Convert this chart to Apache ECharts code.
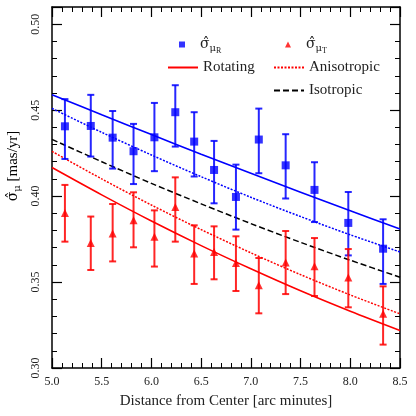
<!DOCTYPE html>
<html><head><meta charset="utf-8">
<script src="https://cdn.jsdelivr.net/npm/echarts@6/dist/echarts.min.js"></script>
<style>html,body{margin:0;padding:0;background:#fff}#c{width:416px;height:416px}</style>
</head><body><div id="c"></div>
<script>
// Observed points (distance in arc minutes)
const distances = [5.13,5.39,5.61,5.82,6.03,6.24,6.43,6.63,6.85,7.08,7.35,7.64,7.98,8.33];
const sigmaR     = [0.4406,0.4408,0.4340,0.4261,0.4342,0.4488,0.4317,0.4152,0.3995,0.4329,0.4179,0.4036,0.3844,0.3694];
const sigmaRLow  = [0.4216,0.4230,0.4160,0.4070,0.4145,0.4288,0.4114,0.3958,0.3805,0.4133,0.3986,0.3849,0.3655,0.3489];
const sigmaRHigh = [0.4564,0.4589,0.4495,0.4420,0.4542,0.4645,0.4488,0.4321,0.4183,0.4509,0.4360,0.4197,0.4024,0.3865];
const sigmaT     = [0.3902,0.3727,0.3782,0.3859,0.3764,0.3937,0.3666,0.3675,0.3611,0.3481,0.3613,0.3592,0.3526,0.3316];
const sigmaTLow  = [0.3735,0.3570,0.3620,0.3702,0.3590,0.3735,0.3489,0.3516,0.3448,0.3318,0.3430,0.3419,0.3353,0.3136];
const sigmaTHigh = [0.4065,0.3881,0.3954,0.4022,0.3917,0.4109,0.3830,0.3824,0.3766,0.3640,0.3797,0.3756,0.3692,0.3475];
// Model curves
const modelX   = [5.0,5.5,6.0,6.5,7.0,7.5,8.0,8.5];
const rotR     = [0.4590,0.4473,0.4358,0.4244,0.4133,0.4023,0.3915,0.3808];
const anisoR   = [0.4510,0.4371,0.4239,0.4113,0.3993,0.3881,0.3775,0.3675];
const isoModel = [0.4330,0.4200,0.4074,0.3955,0.3840,0.3731,0.3627,0.3528];
const anisoT   = [0.4260,0.4100,0.3948,0.3805,0.3670,0.3543,0.3425,0.3315];
const rotT     = [0.4166,0.4007,0.3855,0.3712,0.3577,0.3449,0.3330,0.3218];
const xTicks = ['5.0','5.5','6.0','6.5','7.0','7.5','8.0','8.5'];
const yTicks = ['0.30','0.35','0.40','0.45','0.50'];

const FONT = 'Liberation Serif';
const BLUE = '#0000ff', RED = '#ff0000';
const zip = (xs, ys) => xs.map((x, i) => [x, ys[i]]);
const errData = (lo, hi) => distances.map((x, i) => [x, lo[i], hi[i]]);

function errRender(color) {
  return function (params, api) {
    const x = api.value(0);
    const p1 = api.coord([x, api.value(1)]);
    const p2 = api.coord([x, api.value(2)]);
    const w = 3.5;
    const st = {stroke: color, lineWidth: 2, opacity: 0.85};
    return {type: 'group', children: [
      {type: 'line', shape: {x1: p1[0], y1: p1[1], x2: p2[0], y2: p2[1]}, style: st},
      {type: 'line', shape: {x1: p1[0]-w, y1: p1[1], x2: p1[0]+w, y2: p1[1]}, style: st},
      {type: 'line', shape: {x1: p2[0]-w, y1: p2[1], x2: p2[0]+w, y2: p2[1]}, style: st}
    ]};
  };
}

const rich = {
  h: {fontFamily: 'DejaVu Serif', fontSize: 14, color: '#222'},
  t: {fontFamily: FONT, fontSize: 15, color: '#222'},
  s: {fontFamily: 'DejaVu Serif', fontSize: 10, color: '#222', padding: [8, 0, 0, 0]},
  ss: {fontFamily: FONT, fontSize: 8, color: '#222', padding: [12, 0, 0, 0]},
  gap: {width: 10}
};
const labelMap = {
  sR: '{gap|}{h|σ̂}{s|μ}{ss|R}',
  sT: '{gap|}{h|σ̂}{s|μ}{ss|T}'
};
function mkLegend(name, left, top, iw, ih, extra) {
  return Object.assign({
    data: [name], left: left, top: top, itemWidth: iw, itemHeight: ih, itemGap: 0,
    padding: 0, selectedMode: false,
    formatter: n => labelMap[n] || n,
    textStyle: {fontFamily: FONT, fontSize: 15, color: '#222', rich: rich}
  }, extra || {});
}
const noSym = {itemStyle: {opacity: 0}};

const axisCommon = {
  min: 5.0, max: 8.5, interval: 0.5,
  axisLine: {lineStyle: {color: '#000', width: 1.5}},
  axisTick: {inside: true, length: 10, lineStyle: {color: '#000', width: 1.2}},
  minorTick: {show: true, splitNumber: 5, length: 5, lineStyle: {color: '#000', width: 1}},
  splitLine: {show: false}
};
const yCommon = {
  min: 0.30, max: 0.51, interval: 0.05,
  axisLine: {show: true, lineStyle: {color: '#000', width: 1.5}},
  axisTick: {show: true, inside: true, length: 10, lineStyle: {color: '#000', width: 1.2}},
  minorTick: {show: true, splitNumber: 5, length: 5, lineStyle: {color: '#000', width: 1}},
  splitLine: {show: false}
};

const chart = echarts.init(document.getElementById('c'), null, {renderer: 'canvas'});
chart.setOption({
  animation: false,
  backgroundColor: '#fff',
  grid: {left: 52, right: 16, top: 7, bottom: 48},
  xAxis: [
    Object.assign({type: 'value', position: 'bottom',
      axisLabel: {margin: 8, fontFamily: FONT, fontSize: 12, color: '#222',
        formatter: v => xTicks[Math.round((v - 5.0) / 0.5)] || ''},
      name: 'Distance from Center [arc minutes]', nameLocation: 'middle', nameGap: 26,
      nameTextStyle: {fontFamily: FONT, fontSize: 15, color: '#222'}}, axisCommon),
    Object.assign({type: 'value', position: 'top', axisLabel: {show: false}}, axisCommon)
  ],
  yAxis: [
    Object.assign({type: 'value', position: 'left',
      axisLabel: {rotate: 90, margin: 10, fontFamily: FONT, fontSize: 12, color: '#222',
        formatter: v => yTicks[Math.round((v - 0.30) / 0.05)] || ''}}, yCommon),
    Object.assign({type: 'value', position: 'right', axisLabel: {show: false}}, yCommon)
  ],
  legend: [
    mkLegend('sR', 179, 37, 6, 6),
    mkLegend('sT', 285, 37, 6, 6),
    mkLegend('Rotating', 167, 60, 30, 7, noSym),
    mkLegend('Anisotropic', 273, 60, 30, 7, noSym),
    mkLegend('Isotropic', 273, 83, 30, 7, noSym)
  ],
  graphic: [{
    type: 'text', x: 13, y: 166, rotation: Math.PI / 2,
    style: {text: '{h|σ̂}{s|μ}{t| [mas/yr]}', rich: rich, align: 'center', verticalAlign: 'middle'}
  }],
  series: [
    {name: 'errR', type: 'custom', renderItem: errRender(BLUE), data: errData(sigmaRLow, sigmaRHigh), z: 3},
    {name: 'errT', type: 'custom', renderItem: errRender(RED), data: errData(sigmaTLow, sigmaTHigh), z: 3},
    {name: 'Rotating', type: 'line', data: zip(modelX, rotT), smooth: 0.3, showSymbol: false, symbol: 'none',
      lineStyle: {color: RED, width: 1.6}, itemStyle: {color: RED}, z: 2},
    {name: 'Rotating', type: 'line', data: zip(modelX, rotR), smooth: 0.3, showSymbol: false, symbol: 'none',
      lineStyle: {color: BLUE, width: 1.6}, itemStyle: {color: BLUE}, z: 2},
    {name: 'Anisotropic', type: 'line', data: zip(modelX, anisoT), smooth: 0.3, showSymbol: false, symbol: 'none',
      lineStyle: {color: RED, width: 1.5, type: [2, 1.5]}, itemStyle: {color: RED}, z: 2},
    {name: 'Anisotropic', type: 'line', data: zip(modelX, anisoR), smooth: 0.3, showSymbol: false, symbol: 'none',
      lineStyle: {color: BLUE, width: 1.5, type: [2, 1.5]}, itemStyle: {color: BLUE}, z: 2},
    {name: 'Isotropic', type: 'line', data: zip(modelX, isoModel), smooth: 0.3, showSymbol: false, symbol: 'none',
      lineStyle: {color: '#000', width: 1.5, type: [6, 3]}, itemStyle: {color: '#000'}, z: 2},
    {name: 'sR', type: 'scatter', data: zip(distances, sigmaR), symbol: 'rect', symbolSize: 8,
      itemStyle: {color: BLUE}, z: 4},
    {name: 'sT', type: 'scatter', data: zip(distances, sigmaT), symbol: 'triangle', symbolSize: 8,
      itemStyle: {color: RED}, z: 4}
  ]
});
</script></body></html>
